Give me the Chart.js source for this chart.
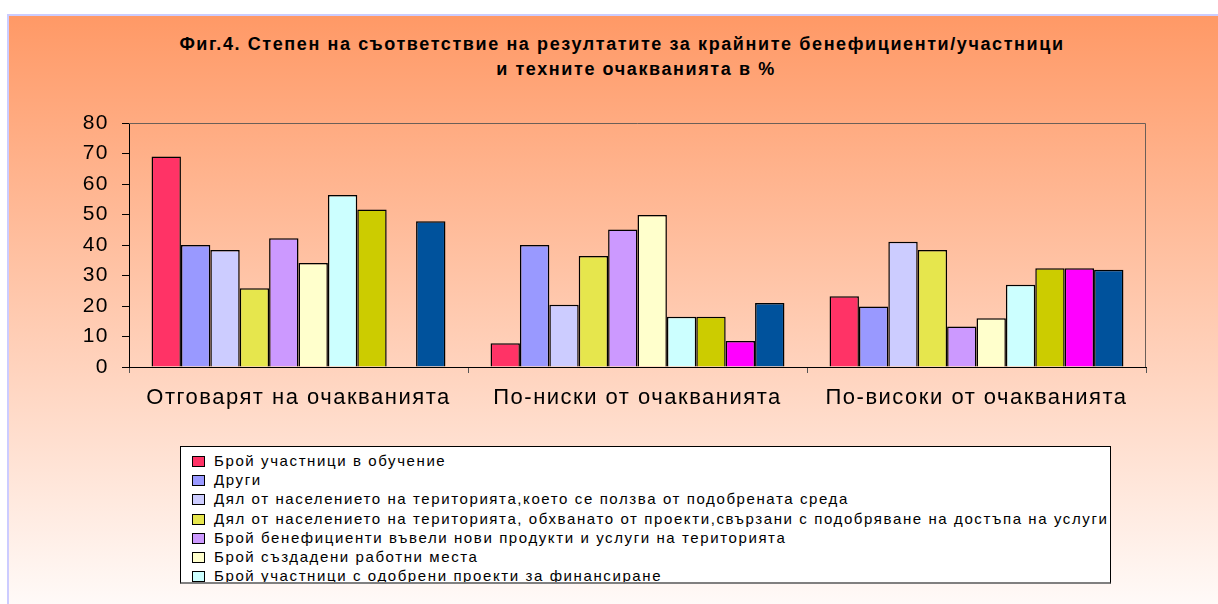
<!DOCTYPE html>
<html>
<head>
<meta charset="utf-8">
<script src="https://cdn.jsdelivr.net/npm/chart.js@4/dist/chart.umd.min.js"></script>
<style>
body{margin:0;width:1218px;height:604px;overflow:hidden;background:#fff;font-family:"Liberation Sans",Arial,sans-serif;}
#frame{position:absolute;left:7px;top:14px;width:1211px;height:590px;box-sizing:border-box;
  border-left:2px solid #ccccff;border-top:2px solid #ccccff;
  background:linear-gradient(to bottom,#ff9966 0%,#fffaf8 100%);}
#chart{position:absolute;left:0;top:0;}
.title{position:absolute;left:0;text-align:center;font-weight:bold;font-size:18px;letter-spacing:1.6px;color:#000;white-space:nowrap;}
#legend{position:absolute;left:180px;top:446px;width:931px;height:138px;box-sizing:border-box;
  background:#fff;border:1px solid #000;border-bottom:2px solid #808080;overflow:hidden;padding:4px 0 0 11px;}
.item{height:19.2px;line-height:19.2px;font-size:15px;letter-spacing:1.6px;white-space:nowrap;}
.box{display:inline-block;width:11px;height:9px;border:1px solid #000;margin-right:9px;vertical-align:-1px;}
</style>
</head>
<body>
<div id="frame"></div>
<div class="title" style="top:34px;width:1244px">Фиг.4. Степен на съответствие на резултатите за крайните  бенефициенти/участници</div>
<div class="title" style="top:59px;width:1272px">и техните очакванията в %</div>
<canvas id="chart" width="1218" height="604"></canvas>
<div id="legend"></div>
<script>
const categories=["Отговарят на очакванията","По-ниски от очакванията","По-високи от очакванията"];
const seriesNames=[
  "Брой участници в обучение",
  "Други",
  "Дял от населението на територията,което се ползва от подобрената среда",
  "Дял от населението на територията, обхванато от проекти,свързани с подобряване на достъпа на услуги",
  "Брой бенефициенти въвели нови продукти и услуги на територията",
  "Брой създадени работни места",
  "Брой участници с одобрени проекти за финансиране",
  "Брой участници с реализирани проекти и получено финансиране",
  "Брой нови предприятия",
  "Брой проведени инициативи"
];
const seriesColors=["#ff3366","#9999ff","#ccccff","#e6e64d","#cc99ff","#ffffcc","#ccffff","#cccc00","#ff00ff","#00529c"];
const training=[69.0,7.8,23.2];
const others=[40.0,40.0,19.8];
const shareEnvironment=[38.4,20.4,41.1];
const shareServices=[25.8,36.4,38.4];
const newProducts=[42.2,45.1,13.3];
const jobs=[34.1,49.8,16.0];
const approvedProjects=[56.4,16.5,27.0];
const financedProjects=[51.6,16.5,32.4];
const newEnterprises=[null,8.5,32.4];
const initiatives=[47.8,21.0,31.9];
const seriesValues=[training,others,shareEnvironment,shareServices,newProducts,jobs,approvedProjects,financedProjects,newEnterprises,initiatives];
const yTicks=[0,10,20,30,40,50,60,70,80];

// рамка на графичната област (горе и вдясно)
const plotFrame={
  id:"plotFrame",
  beforeDraw(chart){
    chart.ctx.letterSpacing="1.5px";
  },
  afterDatasetsDraw(chart){
    const {ctx,chartArea:a}=chart;
    ctx.save();
    ctx.strokeStyle="#6b5f58";
    ctx.lineWidth=1;
    ctx.beginPath();
    ctx.moveTo(a.left,a.top+0.5);
    ctx.lineTo(a.right-0.5,a.top+0.5);
    ctx.lineTo(a.right-0.5,a.bottom);
    ctx.stroke();
    ctx.restore();
  },
  afterDraw(chart){
    chart.ctx.letterSpacing="0px";
  }
};

new Chart(document.getElementById("chart"),{
  type:"bar",
  data:{
    labels:categories,
    datasets:seriesValues.map((vals,i)=>({
      label:seriesNames[i],
      data:vals,
      backgroundColor:seriesColors[i],
      borderColor:"#000",
      borderWidth:1.5,
      borderSkipped:"bottom",
      categoryPercentage:0.867,
      barPercentage:1.0
    }))
  },
  options:{
    responsive:false,
    animation:false,
    layout:{padding:{left:0,top:123,right:72,bottom:0}},
    plugins:{legend:{display:false},title:{display:false},tooltip:{enabled:false}},
    scales:{
      x:{
        afterFit:s=>{s.height=237;},
        grid:{display:true,drawOnChartArea:false,drawTicks:true,tickLength:6,color:"#555",offset:true},
        border:{color:"#000",width:1},
        ticks:{color:"#000",padding:12,font:{family:"Liberation Sans",size:22}}
      },
      y:{
        min:0,max:80,
        afterFit:s=>{s.width=129;},
        afterBuildTicks:s=>{s.ticks=yTicks.map(v=>({value:v}));},
        grid:{display:true,drawOnChartArea:false,drawTicks:true,tickLength:7,color:"#000"},
        border:{color:"#000",width:1},
        ticks:{color:"#000",padding:13,font:{family:"Liberation Sans",size:21}}
      }
    }
  },
  plugins:[plotFrame]
});

const legend=document.getElementById("legend");
seriesNames.forEach((name,i)=>{
  const row=document.createElement("div");
  row.className="item";
  row.innerHTML='<span class="box" style="background:'+seriesColors[i]+'"></span>'+name;
  legend.appendChild(row);
});
</script>
</body>
</html>
